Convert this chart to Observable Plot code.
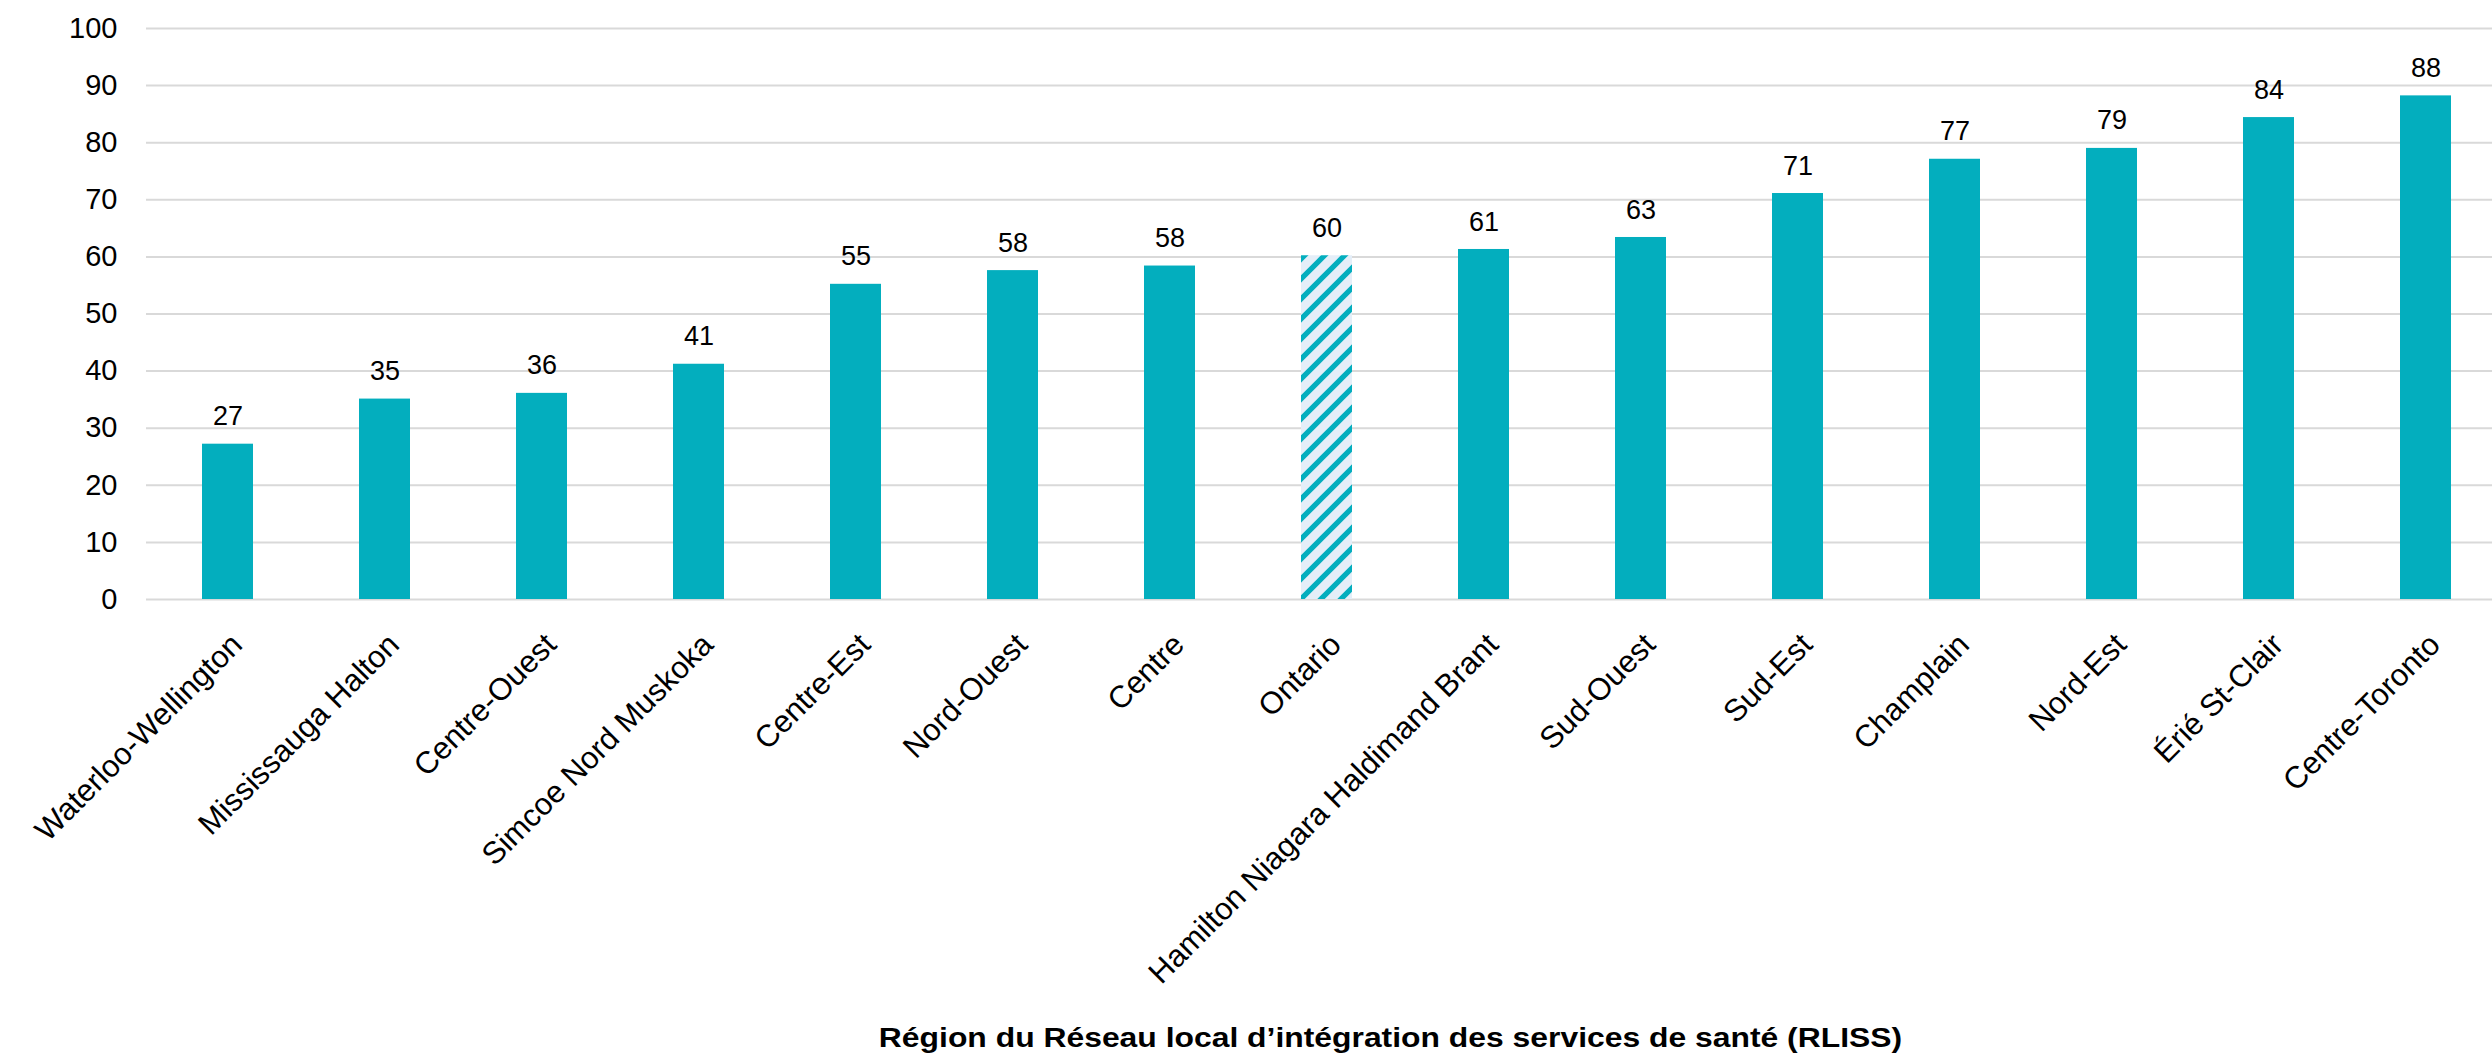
<!DOCTYPE html>
<html>
<head>
<meta charset="utf-8">
<script src="https://cdn.jsdelivr.net/npm/d3@7"></script>
<script src="https://cdn.jsdelivr.net/npm/@observablehq/plot@0.6"></script>
<style>
  html, body { margin: 0; padding: 0; background: #ffffff; overflow: hidden; }
  #chart svg { display: block; }
</style>
</head>
<body>
<div id="chart"></div>
<script>
const regions = [
  "Waterloo-Wellington", "Mississauga Halton", "Centre-Ouest", "Simcoe Nord Muskoka",
  "Centre-Est", "Nord-Ouest", "Centre", "Ontario", "Hamilton Niagara Haldimand Brant",
  "Sud-Ouest", "Sud-Est", "Champlain", "Nord-Est", "Érié St-Clair", "Centre-Toronto"
];
const values = [27.2, 35.1, 36.1, 41.2, 55.2, 57.6, 58.4, 60.2, 61.3, 63.4, 71.1, 77.1, 79.0, 84.4, 88.2];
const highlighted = ["Ontario"];
const yTicks = [0, 10, 20, 30, 40, 50, 60, 70, 80, 90, 100];
const xTitle = "Région du Réseau local d’intégration des services de santé (RLISS)";

const teal = "#03aebe";
const data = regions.map((r, i) => ({region: r, value: values[i]}));
const font = "'Liberation Sans', Arial, sans-serif";

const defs = () => {
  const d = d3.create("svg:defs");
  const p = d.append("pattern")
    .attr("id", "hatch")
    .attr("patternUnits", "userSpaceOnUse")
    .attr("width", 20).attr("height", 20);
  p.append("rect").attr("width", 20).attr("height", 20).attr("fill", "#e4eef8");
  p.append("path")
    .attr("d", "M-5,5L5,-5M0,20L20,0M15,25L25,15")
    .attr("stroke", teal).attr("stroke-width", 5.2).attr("fill", "none");
  return d.node();
};

const chart = Plot.plot({
  width: 2492,
  height: 1054,
  marginLeft: 146,
  marginRight: 0,
  marginTop: 28,
  marginBottom: 455,
  style: {fontFamily: font, color: "#000", background: "#fff"},
  x: {type: "band", domain: regions, range: [146, 2506], paddingInner: 0.678, paddingOuter: 0.339},
  y: {domain: [0, 100]},
  marks: [
    defs,
    Plot.gridY(yTicks, {stroke: "#d9d9d9", strokeOpacity: 1, strokeWidth: 2}),
    Plot.barY(data.filter(d => !highlighted.includes(d.region)), {x: "region", y: "value", fill: teal}),
    Plot.barY(data.filter(d => highlighted.includes(d.region)), {x: "region", y: "value", fill: "url(#hatch)"}),
    Plot.text(data, {
      x: "region", y: "value", text: d => String(Math.round(d.value)),
      dy: -27.6, lineAnchor: "middle", fontSize: 27, fill: "#000"
    }),
    Plot.axisY({ticks: yTicks, tickSize: 0, tickPadding: 29, fontSize: 29, label: null, tickFormat: d => String(d)}),
    Plot.axisX({
      tickSize: 0, tickPadding: 40, tickRotate: -45, textAnchor: "end", lineAnchor: "middle",
      dx: 9, fontSize: 31, label: null
    }),
    Plot.text([xTitle], {
      frameAnchor: "bottom", text: d => d, dx: 71, dy: 438.5,
      lineAnchor: "middle", fontSize: 27, fontWeight: "bold", fill: "#000"
    })
  ]
});
document.getElementById("chart").appendChild(chart);

// The reference title is set in a horizontally wider face: stretch its glyphs to match.
d3.select(chart).selectAll("text").each(function () {
  if (this.textContent === xTitle) {
    const len = this.getComputedTextLength();
    this.setAttribute("textLength", (len * 1.18).toFixed(1));
    this.setAttribute("lengthAdjust", "spacingAndGlyphs");
  }
});
</script>
</body>
</html>
